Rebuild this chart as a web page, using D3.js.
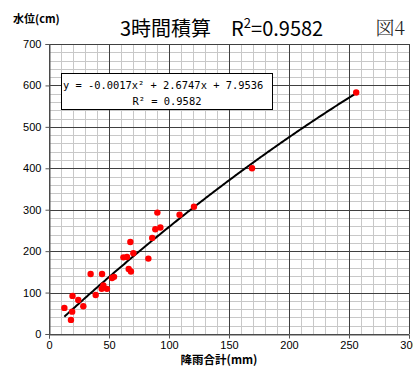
<!DOCTYPE html>
<html>
<head>
<meta charset="utf-8">
<script src="https://cdn.jsdelivr.net/npm/d3@7"></script>
<style>
  body { margin: 0; background: #fff; }
  svg { display: block; }
</style>
</head>
<body>
<svg id="chart" width="413" height="368"></svg>
<script>
// rainfall total (mm) vs water level (cm)
const rain = [12.8, 18.3, 19.3, 19.6, 24.4, 28.6, 34.7, 38.9, 44.2, 43.9, 45.3, 48.3, 52.5, 54.2, 62, 65, 66.4, 68.3, 67.8, 70.3, 82.8, 86, 88.6, 92.8, 90.3, 108.8, 120.8, 169.2, 256];
const level = [63, 34, 54, 92, 82, 67, 145, 94, 145, 109, 117, 109, 135, 138, 185, 186, 157, 151, 222, 195, 182, 232, 253, 257, 293, 288, 307, 400, 583];
const coef = [-0.0017, 2.6747, 7.9536];
const xTicks = [0, 50, 100, 150, 200, 250, 300];
const yTicks = [0, 100, 200, 300, 400, 500, 600, 700];

const svg = d3.select("#chart");
const plot = { left: 49, right: 409, top: 44, bottom: 334 };

const x = d3.scaleLinear().domain([0, 300]).range([plot.left, plot.right]);
const y = d3.scaleLinear().domain([0, 700]).range([plot.bottom, plot.top]);

const grid = svg.append("g");
// minor grid
grid.selectAll("line.mx").data(d3.range(0, 301, 10)).join("line")
  .attr("x1", d => Math.round(x(d)) + 0.5).attr("x2", d => Math.round(x(d)) + 0.5)
  .attr("y1", plot.top).attr("y2", plot.bottom)
  .attr("stroke", "#c8c8c8");
grid.selectAll("line.my").data(d3.range(0, 701, 20)).join("line")
  .attr("y1", d => Math.round(y(d)) + 0.5).attr("y2", d => Math.round(y(d)) + 0.5)
  .attr("x1", plot.left).attr("x2", plot.right)
  .attr("stroke", "#c8c8c8");
// major grid
grid.selectAll("line.Mx").data(xTicks).join("line")
  .attr("x1", d => Math.round(x(d)) + 0.5).attr("x2", d => Math.round(x(d)) + 0.5)
  .attr("y1", plot.top).attr("y2", plot.bottom)
  .attr("stroke", "#404040");
grid.selectAll("line.My").data(yTicks).join("line")
  .attr("y1", d => Math.round(y(d)) + 0.5).attr("y2", d => Math.round(y(d)) + 0.5)
  .attr("x1", plot.left).attr("x2", plot.right)
  .attr("stroke", "#404040");

// axes
const xAxis = svg.append("g")
  .attr("transform", `translate(0,${Math.round(y(0)) + 0.5})`)
  .call(d3.axisBottom(x).tickValues(xTicks).tickSize(4).tickFormat(d3.format("d")));
const yAxis = svg.append("g")
  .attr("transform", `translate(${Math.round(x(0)) + 0.5},0)`)
  .call(d3.axisLeft(y).tickValues(yTicks).tickSize(4).tickFormat(d3.format("d")));
[xAxis, yAxis].forEach(a => {
  a.select(".domain").attr("stroke", "#555");
  a.selectAll(".tick line").attr("stroke", "#555");
  a.selectAll("text").attr("font-family", "Liberation Sans, Arial, sans-serif")
    .attr("font-size", 11).attr("fill", "#000");
});
yAxis.selectAll("text").attr("dx", "-0.1em");

// fitted curve
const fit = v => coef[0] * v * v + coef[1] * v + coef[2];
const xs = d3.range(d3.min(rain), d3.max(rain) + 0.01, 1);
svg.append("path")
  .datum(xs)
  .attr("fill", "none").attr("stroke", "#000").attr("stroke-width", 2)
  .attr("d", d3.line().x(d => x(d)).y(d => y(fit(d))));

// points
svg.append("g").selectAll("circle").data(rain).join("circle")
  .attr("cx", d => x(d)).attr("cy", (d, i) => y(level[i]))
  .attr("r", 3.2).attr("fill", "#ff0000");

// equation box
svg.append("rect").attr("x", 61.5).attr("y", 73.5).attr("width", 211).attr("height", 36)
  .attr("fill", "#fff").attr("stroke", "#000");
const mono = "DejaVu Sans Mono, monospace";
svg.append("text").attr("x", 63).attr("y", 89)
  .attr("font-family", mono).attr("font-size", 10.4)
  .text("y = -0.0017x² + 2.6747x + 7.9536");
svg.append("text").attr("x", 167).attr("y", 105).attr("text-anchor", "middle")
  .attr("font-family", mono).attr("font-size", 10.4)
  .text("R² = 0.9582");

// titles
const jp = "Noto Sans CJK JP, sans-serif";
const title = svg.append("text").attr("x", 120).attr("y", 36)
  .attr("font-family", jp).attr("font-size", 20);
title.append("tspan").text("3時間積算　R");
title.append("tspan").attr("font-size", 13).attr("dy", -8).text("2");
title.append("tspan").attr("dy", 8).text("=0.9582");

svg.append("text").attr("x", 405).attr("y", 35).attr("text-anchor", "end")
  .attr("font-family", "Noto Serif CJK JP, DejaVu Serif, serif").attr("font-size", 19)
  .attr("font-weight", 300).attr("fill", "#222")
  .text("図4");

svg.append("text").attr("x", 13).attr("y", 23)
  .attr("font-family", jp).attr("font-size", 11).attr("font-weight", "bold")
  .text("水位(cm)");

svg.append("text").attr("x", 219).attr("y", 364).attr("text-anchor", "middle")
  .attr("font-family", jp).attr("font-size", 11.5).attr("font-weight", "bold")
  .text("降雨合計(mm)");
</script>
</body>
</html>
